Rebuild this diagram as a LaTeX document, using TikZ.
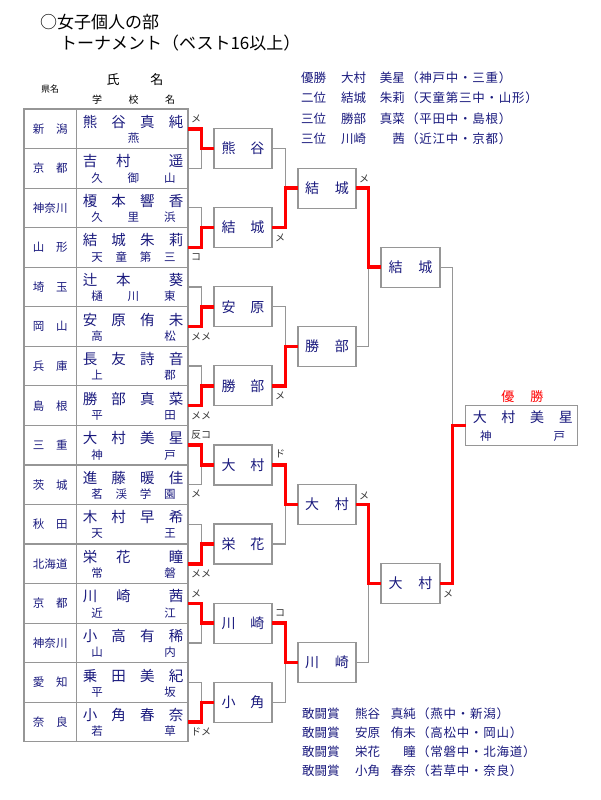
\documentclass[tikz,border=0pt]{standalone}
\usepackage{fontspec}
\setmainfont{Noto Sans CJK JP}
\usetikzlibrary{calc}
\definecolor{ink}{RGB}{25,25,125}
\definecolor{rulegray}{RGB}{150,150,150}
\definecolor{winred}{RGB}{255,0,0}
\newcommand{\setfs}[1]{\fontsize{#1}{#1}\selectfont}
\tikzset{
  cell/.style={draw=rulegray, line width=1.2pt, minimum height=39.55pt, inner sep=0pt, outer sep=0pt},
  rbox/.style={draw=rulegray, line width=1.2pt, fill=white, minimum width=58pt, minimum height=40pt,
    inner sep=0pt, outer sep=0pt, text=ink, font=\setfs{14}},
  lose/.style={draw=rulegray, line width=1.2pt},
  win/.style={draw=winred, line width=3.5pt},
  lbl/.style={anchor=west, inner sep=0pt, text=black!80, font=\setfs{10}},
  info/.style={inner sep=0pt, text=ink, font=\setfs{12.5}},
  paren/.style={info, anchor=west, font=\setfs{12.5}\addfontfeatures{LetterSpace=6}},
}
\begin{document}
\begin{tikzpicture}[x=1pt, y=-1pt]
  % --- 1. Parameters ---
  \def\tabtop{109}
  \def\rowh{39.55}
  \useasboundingbox (0,0) rectangle (600,800);
  % Title
  \node[anchor=west, inner sep=0pt, font=\setfs{17}] (title) at (40,22) {○女子個人の部};
  \node[anchor=west, inner sep=0pt, font=\setfs{17}] (subtitle) at (60,43) {トーナメント（ベスト16以上）};
  % --- 2. Table of entries ---
  \node[inner sep=0pt, font=\setfs{9}] (hpref) at (50,89) {県名};
  \node[inner sep=0pt, font=\setfs{13}] (hname) at (135,80) {\hbox to 57pt{氏\hfil 名}};
  \node[inner sep=0pt, font=\setfs{10}] (hschool) at (133.5,100) {\hbox to 83pt{学\hfil 校\hfil 名}};
  \foreach \i/\pf/\nm/\sch in {
    1/{新\hfil 潟}/{熊\hfil 谷\hfil 真\hfil 純}/{\hfil 燕\hfil},
    2/{京\hfil 都}/{吉\hfil 村\hfil\hfil 遥}/{久\hfil 御\hfil 山},
    3/{神\hfil 奈\hfil 川}/{榎\hfil 本\hfil 響\hfil 香}/{久\hfil 里\hfil 浜},
    4/{山\hfil 形}/{結\hfil 城\hfil 朱\hfil 莉}/{天\hfil 童\hfil 第\hfil 三},
    5/{埼\hfil 玉}/{辻\hfil 本\hfil\hfil 葵}/{樋\hfil 川\hfil 東},
    6/{岡\hfil 山}/{安\hfil 原\hfil 侑\hfil 未}/{高\hfil 松},
    7/{兵\hfil 庫}/{長\hfil 友\hfil 詩\hfil 音}/{上\hfil 郡},
    8/{島\hfil 根}/{勝\hfil 部\hfil 真\hfil 菜}/{平\hfil 田},
    9/{三\hfil 重}/{大\hfil 村\hfil 美\hfil 星}/{神\hfil 戸},
    10/{茨\hfil 城}/{進\hfil 藤\hfil 暖\hfil 佳}/{茗\hfil 渓\hfil 学\hfil 園},
    11/{秋\hfil 田}/{木\hfil 村\hfil 早\hfil 希}/{天\hfil 王},
    12/{北\hfil 海\hfil 道}/{栄\hfil 花\hfil\hfil 瞳}/{常\hfil 磐},
    13/{京\hfil 都}/{川\hfil 崎\hfil\hfil 茜}/{近\hfil 江},
    14/{神\hfil 奈\hfil 川}/{小\hfil 高\hfil 有\hfil 稀}/{山\hfil 内},
    15/{愛\hfil 知}/{乗\hfil 田\hfil 美\hfil 紀}/{平\hfil 坂},
    16/{奈\hfil 良}/{小\hfil 角\hfil 春\hfil 奈}/{若\hfil 草}} {
    \pgfmathsetmacro\yc{\tabtop+\rowh*(\i-0.5)}
    \node[cell, minimum width=52.5pt, text=ink, font=\setfs{11.5}] (p\i) at (50.25,\yc) {\hbox to 35pt{\pf}};
    \node[cell, minimum width=111.5pt] (n\i) at (132.25,\yc) {};
    \node[inner sep=0pt, text=ink, font=\setfs{14.5}] (nm\i) at (133,\yc-7) {\hbox to 100.5pt{\nm}};
    \node[inner sep=0pt, text=ink, font=\setfs{11.5}] (sc\i) at (133.5,\yc+9.5) {\hbox to 84.5pt{\sch}};
  }
  % --- 3. Bracket boxes ---
  \foreach \k/\nm in {1/{熊\hfil 谷}, 2/{結\hfil 城}, 3/{安\hfil 原}, 4/{勝\hfil 部},
                      5/{大\hfil 村}, 6/{栄\hfil 花}, 7/{川\hfil 崎}, 8/{小\hfil 角}}
    \node[rbox] (a\k) at (243,{\tabtop+\rowh*(2*\k-1)}) {\hbox to 43pt{\nm}};
  \foreach \k/\nm in {1/{結\hfil 城}, 2/{勝\hfil 部}, 3/{大\hfil 村}, 4/{川\hfil 崎}}
    \node[rbox] (b\k) at (327,{\tabtop+\rowh*(4*\k-2)}) {\hbox to 44pt{\nm}};
  \foreach \k/\nm in {1/{結\hfil 城}, 2/{大\hfil 村}}
    \node[rbox, minimum width=59pt] (c\k) at (410.5,{\tabtop+\rowh*(8*\k-4)}) {\hbox to 44pt{\nm}};
  \node[rbox, minimum width=112pt, minimum height=39.5pt] (champ) at (521.7,{\tabtop+8*\rowh}) {};
  \node[inner sep=0pt, text=ink, font=\setfs{14}] (champname) at (522.8,417.3) {\hbox to 100pt{大\hfil 村\hfil 美\hfil 星}};
  \node[inner sep=0pt, text=ink, font=\setfs{11.5}] (champschool) at (522.7,436) {\hbox to 85pt{神\hfil 戸}};
  \node[inner sep=0pt, text=winred, font=\setfs{13}] (champlbl) at (522.4,396.7) {\hbox to 42pt{優\hfil 勝}};
  % --- 4. Connectors (loser gray, winner red) ---
  \foreach \k/\w/\l in {1/1/2, 2/4/3, 3/6/5, 4/8/7, 5/9/10, 6/12/11, 7/13/14, 8/16/15} {
    \draw[lose] (n\l.east) -- ++(13.5,0) |- (a\k.west);
    \draw[win] (n\w.east) -- ++(13.5,0) |- (a\k.west);
  }
  \foreach \k/\w/\l in {1/2/1, 2/4/3, 3/5/6, 4/7/8} {
    \draw[lose] (a\l.east) -- ++(13.5,0) |- (b\k.west);
    \draw[win] (a\w.east) -- ++(13.5,0) |- (b\k.west);
  }
  \foreach \k/\w/\l in {1/1/2, 2/3/4} {
    \draw[lose] (b\l.east) -- ++(12.5,0) |- (c\k.west);
    \draw[win] (b\w.east) -- ++(12.5,0) |- (c\k.west);
  }
  \draw[lose] (c1.east) -- ++(12.3,0) |- (champ.west);
  \draw[win] (c2.east) -- ++(12.3,0) |- (champ.west);
  % --- 5. Scoring marks ---
  \foreach \s/\t/\dy in {n1/メ/10, n4/コ/-10, n6/メメ/-10, n8/メメ/-10, n9/反コ/10, n10/メ/-9,
                         n12/メメ/-10, n13/メ/10, n16/ドメ/-10, a2/メ/-10, a4/メ/-10, a5/ド/11,
                         a7/コ/10, b1/メ/9, b3/メ/9, c2/メ/-10}
    \node[lbl] (mk-\s) at ([xshift=3pt,yshift=\dy pt]\s.east) {\t};
  % --- 6. Results ---
  \foreach \j/\rk/\fm/\gv/\fr in {1/優勝/大村/美星/（神戸中・三重）, 2/二位/結城/朱莉/（天童第三中・山形）,
                                 3/三位/勝部/真菜/（平田中・島根）, 4/三位/川崎/茜/（近江中・京都）} {
    \pgfmathsetmacro\ly{77.5+20.5*(\j-1)}
    \node[info, anchor=west] (rk\j) at (301,\ly) {\rk};
    \node[info, anchor=west] (fm\j) at (341,\ly) {\fm};
    \node[info, anchor=east] (gv\j) at (405,\ly) {\gv};
    \node[paren] (fr\j) at (406,\ly) {\fr};
  }
  \foreach \j/\fm/\gv/\fr in {1/熊谷/真純/（燕中・新潟）, 2/安原/侑未/（高松中・岡山）,
                             3/栄花/瞳/（常磐中・北海道）, 4/小角/春奈/（若草中・奈良）} {
    \pgfmathsetmacro\ly{713.3+19.25*(\j-1)}
    \node[info, anchor=west] (ft\j) at (302,\ly) {敢闘賞};
    \node[info, anchor=west] (ff\j) at (355,\ly) {\fm};
    \node[info, anchor=east] (fg\j) at (416,\ly) {\gv};
    \node[paren] (fp\j) at (417,\ly) {\fr};
  }
\end{tikzpicture}
\end{document}
